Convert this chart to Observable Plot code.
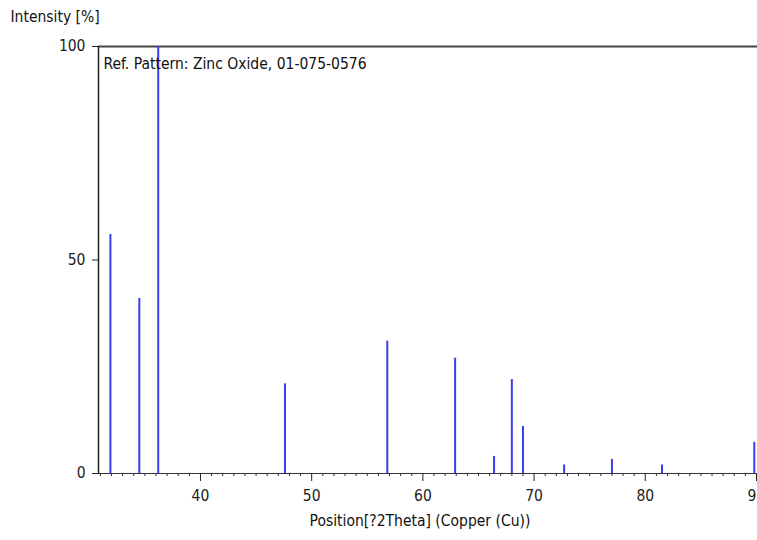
<!DOCTYPE html>
<html>
<head>
<meta charset="utf-8">
<script src="https://cdn.jsdelivr.net/npm/d3@7"></script>
<script src="https://cdn.jsdelivr.net/npm/@observablehq/plot@0.6"></script>
<style>
  html, body { margin: 0; padding: 0; background: #fff; }
  svg { display: block; }
</style>
</head>
<body>
<div id="chart"></div>
<script>
// Reference pattern peaks (Zinc Oxide, 01-075-0576)
const positions = [31.9, 34.5, 36.2, 47.6, 56.8, 62.9, 66.4, 68.0, 69.0, 72.7, 77.0, 81.5, 89.8];
const intensities = [56, 41, 100, 21, 31, 27, 4, 22, 11, 2, 3.3, 2, 7.3];
const xTicks = [40, 50, 60, 70, 80, 90];
const yTicks = [0, 50, 100];
const titleText = "Ref. Pattern: Zinc Oxide, 01-075-0576";
const yLabel = "Intensity [%]";
const xLabel = "Position[?2Theta] (Copper (Cu))";

const peaks = positions.map((p, i) => ({x: p, y: intensities[i]}));
const xMin = 30.83, xMax = 90.09;
const font = "'DejaVu Sans Condensed', 'DejaVu Sans', sans-serif";

const chart = Plot.plot({
  width: 757,
  height: 540,
  marginTop: 46,
  marginBottom: 67,
  marginLeft: 98,
  marginRight: 0,
  style: {fontFamily: font, fontSize: "15.5px", color: "#222", background: "#fff"},
  x: {domain: [xMin, xMax]},
  y: {domain: [0, 100]},
  marks: [
    Plot.ruleY([100], {stroke: "#444", strokeWidth: 2}),
    Plot.ruleX([xMin], {stroke: "#222", strokeWidth: 1.5}),
    Plot.ruleY([0], {stroke: "#333", strokeWidth: 1}),
    Plot.ruleX(peaks, {x: "x", y1: 0, y2: "y", stroke: "#3c3cf0", strokeWidth: 2}),
    Plot.axisX(d3.range(31, 91).filter(v => v % 10 !== 0), {tickSize: 3, text: null, stroke: "#333", label: null}),
    Plot.axisX(xTicks, {tickSize: 8, tickPadding: 8, stroke: "#222", label: null, fontSize: 15.5}),
    Plot.axisY(yTicks, {tickSize: 6, tickPadding: 7, stroke: "#222", label: null, fontSize: 15.5}),
    Plot.text([titleText], {frameAnchor: "top-left", dx: 5, dy: 11, textAnchor: "start", lineAnchor: "top", fontSize: 15.5, fill: "#111"}),
    Plot.text([yLabel], {frameAnchor: "top-left", dx: -88, dy: -36, textAnchor: "start", lineAnchor: "top", fontSize: 15.5, fill: "#111"}),
    Plot.text([xLabel], {frameAnchor: "bottom", dx: -8, dy: 41, lineAnchor: "top", fontSize: 15.5, fill: "#111"})
  ]
});
document.getElementById("chart").append(chart);
</script>
</body>
</html>
